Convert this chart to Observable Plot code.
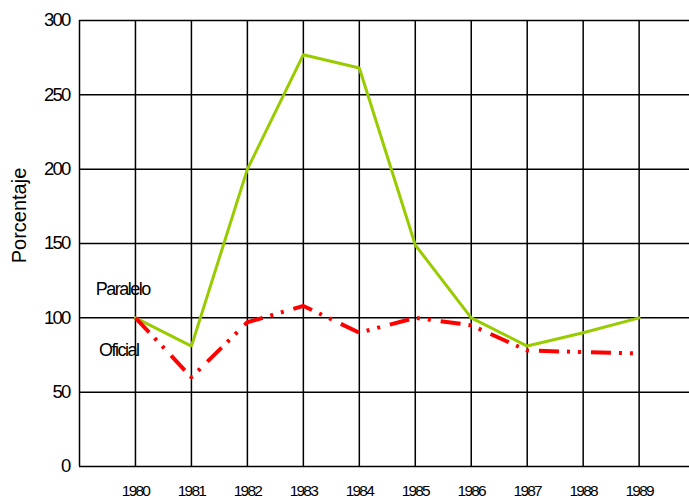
<!DOCTYPE html>
<html>
<head>
<meta charset="utf-8">
<script src="https://cdn.jsdelivr.net/npm/d3@7"></script>
<script src="https://cdn.jsdelivr.net/npm/@observablehq/plot@0.6"></script>
<style>
  html, body { margin: 0; padding: 0; background: #fff; }
  #chart svg { display: block; }
  #chart g[aria-label="y-axis tick label"] text { letter-spacing: -1.8px; }
  #chart g[aria-label="x-axis tick label"] text { letter-spacing: -1.8px; }
</style>
</head>
<body>
<div id="chart"></div>
<script>
const years = [1980, 1981, 1982, 1983, 1984, 1985, 1986, 1987, 1988, 1989];
const paralelo = [100, 81, 200, 277, 268, 149, 100, 81, 90, 100];
const oficial = [100, 60, 97, 108, 90, 100, 95, 78, 77, 76];
const yTicks = [0, 50, 100, 150, 200, 250, 300];
const gridYears = [1979, 1980, 1981, 1982, 1983, 1984, 1985, 1986, 1987, 1988, 1989];
const seriesLabels = [
  {name: "Paralelo", year: 1979.29, value: 119.5},
  {name: "Oficial", year: 1979.35, value: 78.5}
];
const yTitle = "Porcentaje";

const parData = years.map((y, i) => ({year: y, value: paralelo[i]}));
const ofiData = years.map((y, i) => ({year: y, value: oficial[i]}));

const font = "'Liberation Sans', Arial, sans-serif";

const chart = Plot.plot({
  width: 689,
  height: 500,
  marginTop: 20,
  marginBottom: 34,
  marginLeft: 79,
  marginRight: 0,
  style: {fontFamily: font, background: "#fff", overflow: "visible"},
  x: {domain: [1979, 1989.9], axis: null},
  y: {domain: [0, 300], axis: null},
  marks: [
    Plot.ruleY(yTicks, {stroke: "#000", strokeWidth: 1.5, x1: 1979, x2: 1989.9}),
    Plot.ruleX(gridYears, {stroke: "#000", strokeWidth: 1.5, y1: 0, y2: 300}),
    Plot.axisY(yTicks, {
      tickSize: 0, tickPadding: 10, tickFormat: "d",
      fontSize: 18.5, fill: "#000", label: null
    }),
    Plot.axisX(years, {
      tickSize: 0, tickPadding: 18, tickFormat: "d",
      fontSize: 15.5, fill: "#000", label: null
    }),
    Plot.line(parData, {x: "year", y: "value", stroke: "#99CC00", strokeWidth: 3, strokeLinejoin: "miter"}),
    Plot.line(ofiData, {x: "year", y: "value", stroke: "#FF0000", strokeWidth: 4,
      strokeDasharray: "20,8,3,8,3,10", strokeLinecap: "butt", strokeLinejoin: "miter"}),
    Plot.text(seriesLabels, {x: "year", y: "value", text: "name", textAnchor: "start",
      fontSize: 18, fill: "#000"}),
    Plot.text([yTitle], {frameAnchor: "left", textAnchor: "middle", dx: -60, dy: -28, rotate: -90,
      text: d => d, fontSize: 20, fill: "#000"})
  ]
});
d3.select(chart).selectAll("text")
  .filter(function() { return seriesLabels.some(s => s.name === this.textContent); })
  .style("letter-spacing", "-1.5px");
document.getElementById("chart").appendChild(chart);
</script>
</body>
</html>
